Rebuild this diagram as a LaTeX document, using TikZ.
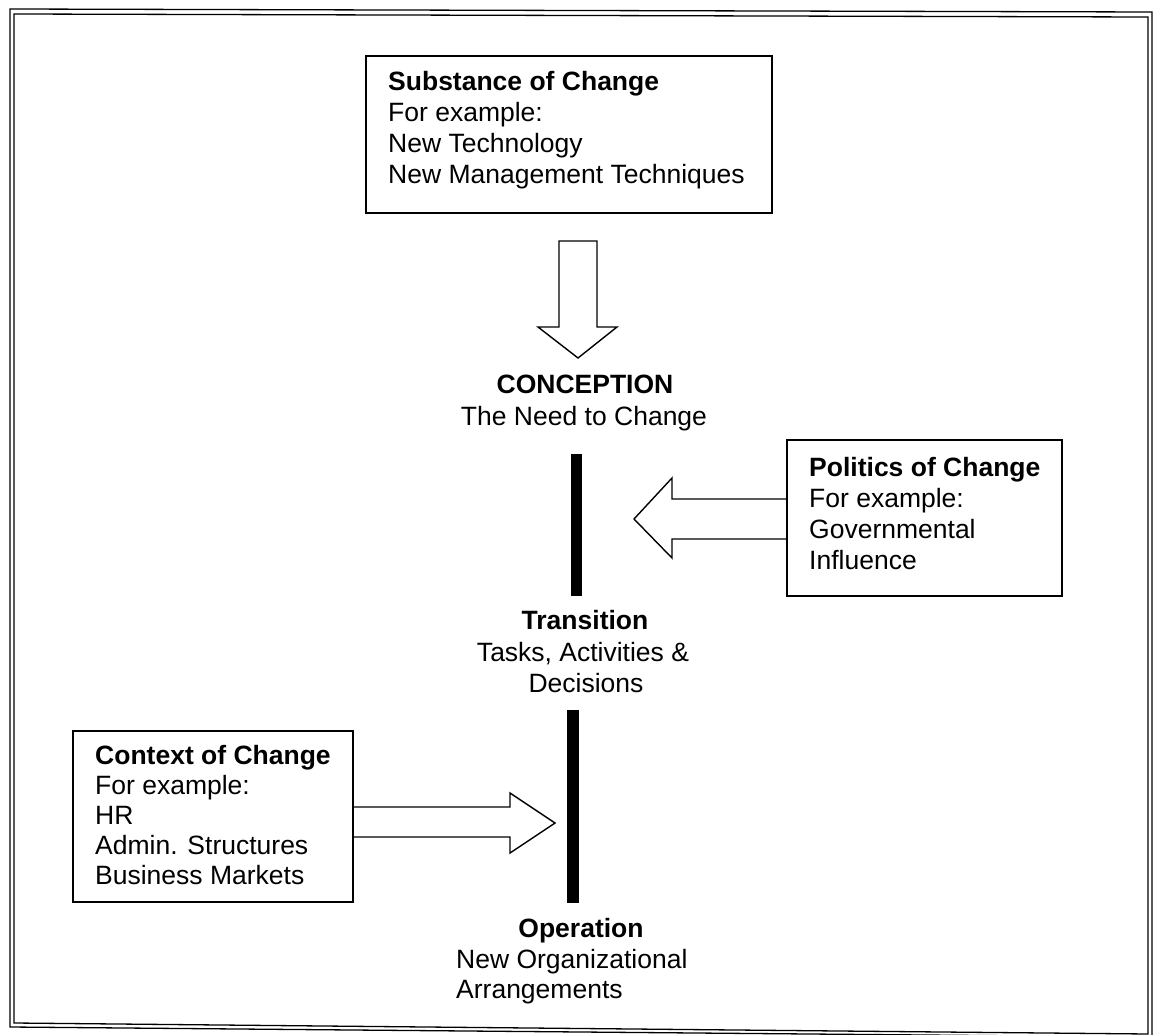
\documentclass[tikz,border=0pt]{standalone}
\usepackage{fontspec}
\setmainfont{Liberation Sans}
\begin{document}
\begin{tikzpicture}[x=1pt,y=-1pt,
  box/.style={draw, line width=1.2pt, inner sep=0pt},
  txt/.style={inner sep=0pt, anchor=base west, font=\fontsize{26.5}{31}\selectfont},
  ctxt/.style={inner sep=0pt, anchor=base, font=\fontsize{26.5}{31}\selectfont},
  bar/.style={fill=black, draw=none, inner sep=0pt},
  blockarrow/.style={draw, line width=1.4pt, line join=miter},
  frame/.style={draw, line width=1.3pt}]
\useasboundingbox (0,0) rectangle (1154,1035);
% page frame (double line)
\draw[frame] (10,9) -- (1152,12) -- (1152,1037) -- (10,1027) -- cycle;
\draw[frame] (14,14) -- (1148,17) -- (1148,1034) -- (14,1023) -- cycle;
% boxes
\node[box, minimum width=406pt, minimum height=157pt] (sub) at (569,134.5) {};
\node[box, minimum width=275pt, minimum height=156pt] (pol) at (924.5,518) {};
\node[box, minimum width=280pt, minimum height=171pt] (ctx) at (213,816.5) {};
% box texts
\node[txt] (sub1) at (388,91) {\bfseries Substance of Change};
\node[txt] (sub2) at (388,122) {For example:};
\node[txt] (sub3) at (388,153) {New Technology};
\node[txt] (sub4) at (388,184) {New Management Techniques};
\node[txt] (pol1) at (809,476) {\bfseries Politics of Change};
\node[txt] (pol2) at (809,507) {For example:};
\node[txt] (pol3) at (809,538) {Governmental};
\node[txt] (pol4) at (809,569) {Influence};
\node[txt] (ctx1) at (95,764) {\bfseries Context of Change};
\node[txt] (ctx2) at (95,794) {For example:};
\node[txt] (ctx3) at (95,824) {HR};
\node[txt] (ctx4) at (95,854) {Admin. Structures};
\node[txt] (ctx5) at (95,884) {Business Markets};
% stage labels
\node[ctxt] (con1) at (585,393) {\bfseries CONCEPTION};
\node[ctxt] (con2) at (584,425) {The Need to Change};
\node[ctxt] (tra1) at (585,629) {\bfseries Transition};
\node[ctxt] (tra2) at (583,661) {Tasks, Activities \&};
\node[ctxt] (tra3) at (586,692) {Decisions};
\node[ctxt] (op1) at (581,937) {\bfseries Operation};
\node[txt] (op2) at (456,968) {New Organizational};
\node[txt] (op3) at (456,998) {Arrangements};
% bars
\node[bar, minimum width=11pt, minimum height=142pt] (bar1) at (576.5,525) {};
\node[bar, minimum width=12pt, minimum height=193pt] (bar2) at (573,806.5) {};
% block arrows
\draw[blockarrow] (559,241) -- (597,241) -- (597,327) -- (617,327) -- (578,358)
  -- (538,327) -- (559,327) -- cycle;
\draw[blockarrow] (pol.west |- 0,499) -- (672,499) -- (672,478) -- (634,519)
  -- (672,558) -- (672,539) -- (pol.west |- 0,539);
\draw[blockarrow] (ctx.east |- 0,807) -- (510,807) -- (510,793) -- (555,823)
  -- (510,853) -- (510,837) -- (ctx.east |- 0,837);
\end{tikzpicture}
\end{document}
